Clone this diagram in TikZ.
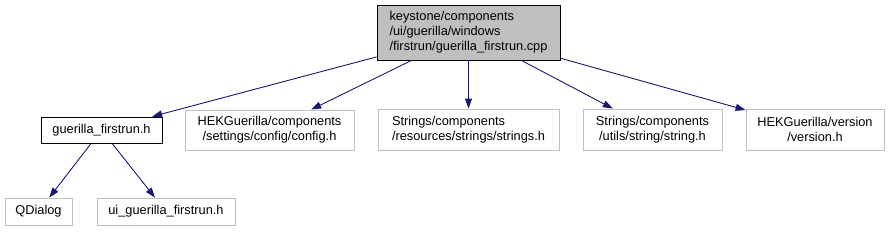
\documentclass[tikz,border=0pt]{standalone}
\usepackage{fontspec}
\setmainfont{Liberation Sans}
\usetikzlibrary{arrows.meta}
\definecolor{edgeblue}{HTML}{191970}
\definecolor{boxgrey}{HTML}{BFBFBF}
\tikzset{
  file/.style={draw=boxgrey, line width=0.9pt, inner sep=0pt, font=\fontsize{12.8}{15}\selectfont},
  docfile/.style={file, draw=black},
  edge/.style={->, draw=edgeblue, line width=0.9pt}
}
\begin{document}
\begin{tikzpicture}[x=1pt,y=-1pt,>={Triangle[length=10pt,width=7pt]}]
            \useasboundingbox (0,0) rectangle (889,231);
            % source file
            \node[docfile, fill=boxgrey, align=left, minimum width=183pt, minimum height=55pt] (root) at (468.5,32.5)
              {keystone/components\\/ui/guerilla/windows\\/firstrun/guerilla\_firstrun.cpp};
            % included headers
            \node[docfile, minimum width=121pt, minimum height=26pt] (hdr) at (101.5,130) {guerilla\_firstrun.h};
            \node[file, align=center, minimum width=169pt, minimum height=40pt] (config) at (269.5,130)
              {HEKGuerilla/components\\/settings/config/config.h};
            \node[file, align=left, minimum width=181pt, minimum height=41pt] (strings) at (468.5,129.5)
              {Strings/components\\/resources/strings/strings.h};
            \node[file, align=center, minimum width=139pt, minimum height=41pt] (string) at (652.5,129.5)
              {Strings/components\\/utils/string/string.h};
            \node[file, align=center, minimum width=138pt, minimum height=41pt] (version) at (815,129.5)
              {HEKGuerilla/version\\/version.h};
            % second level
            \node[file, minimum width=67pt, minimum height=27pt] (qdialog) at (38.5,211.5) {QDialog};
            \node[file, minimum width=138pt, minimum height=27pt] (uihdr) at (166,211.5) {ui\_guerilla\_firstrun.h};
            \draw[edge] (root) -- (hdr);
            \draw[edge] (root) -- (config);
            \draw[edge] (root) -- (strings);
            \draw[edge] (root) -- (string);
            \draw[edge] (root) -- (version);
            \draw[edge] (hdr) -- (qdialog);
            \draw[edge] (hdr) -- (uihdr);
        \end{tikzpicture}
\end{document}
